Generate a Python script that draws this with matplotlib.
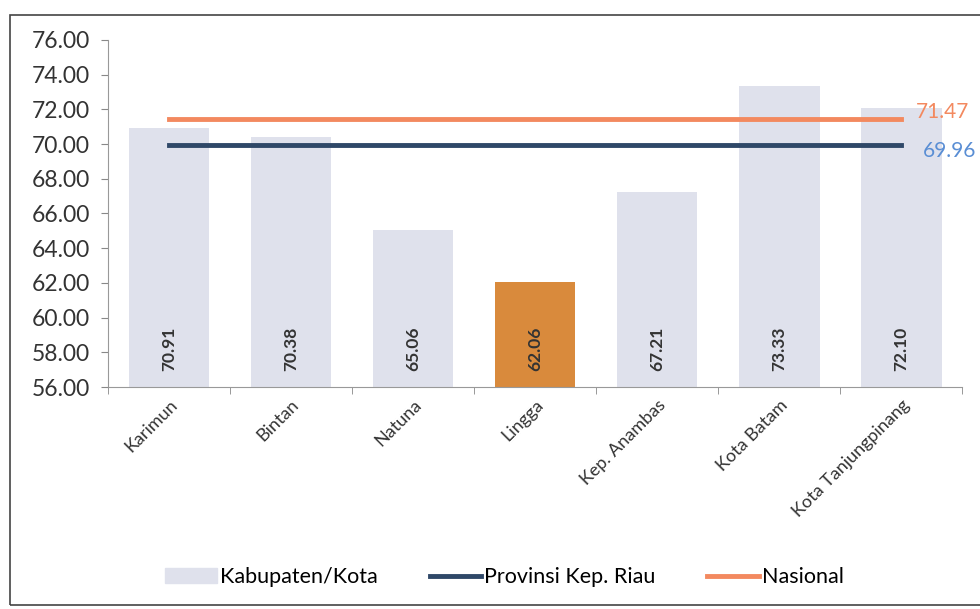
import matplotlib.pyplot as plt
import matplotlib.patches as mpatches
from matplotlib.lines import Line2D
import numpy as np

plt.rcParams['font.family'] = ['Lato', 'DejaVu Sans']

# data
kabupaten = ['Karimun', 'Bintan', 'Natuna', 'Lingga', 'Kep. Anambas',
             'Kota Batam', 'Kota Tanjungpinang']
nilai = [70.91, 70.38, 65.06, 62.06, 67.21, 73.33, 72.10]
provinsi = 69.96
nasional = 71.47

WARNA_BAR = '#dfe1ec'
WARNA_LINGGA = '#d98a3c'
WARNA_PROV = '#2f4868'
WARNA_NAS = '#f3895f'

fig = plt.figure(figsize=(9.8, 6.09), dpi=100)
ax = fig.add_axes([0.110, 0.3645, 0.872, 0.570])

x = np.arange(len(kabupaten))
warna = [WARNA_LINGGA if k == 'Lingga' else WARNA_BAR for k in kabupaten]
ax.bar(x, [v - 56 for v in nilai], bottom=56, width=0.66, color=warna, zorder=1)

for xi, v in zip(x, nilai):
    ax.text(xi, 58.2, f"{v:.2f}", rotation=90, ha='center', va='center',
            fontsize=12.5, fontweight='bold', color='#333333', zorder=3)

ax.plot(x, [provinsi] * len(x), color=WARNA_PROV, lw=3.5, zorder=2)
ax.plot(x, [nasional] * len(x), color=WARNA_NAS, lw=3.5, zorder=2)
ax.text(x[-1] + 0.12, nasional + 0.4, f"{nasional:.2f}", color=WARNA_NAS,
        fontsize=15, va='center', ha='left', clip_on=False)
ax.text(x[-1] + 0.18, provinsi - 0.35, f"{provinsi:.2f}", color='#5a8ed4',
        fontsize=15, va='center', ha='left', clip_on=False)

ax.set_xlim(-0.5, len(x) - 0.5)
ax.set_ylim(56, 76)
ax.set_yticks(np.arange(56, 77, 2))
ax.set_yticklabels([f"{t:.2f}" for t in np.arange(56, 77, 2)], fontsize=16.5, color='#333333')
ax.set_xticks(x)
ax.set_xticklabels(kabupaten, rotation=45, ha='right', rotation_mode='anchor',
                   fontsize=13, color='#333333')
ax.set_xticks(np.arange(-0.5, len(x)), minor=True)
ax.tick_params(axis='x', which='major', length=0, pad=7)
ax.tick_params(axis='x', which='minor', length=5, color='#888888')
ax.tick_params(axis='y', length=5, color='#888888', pad=8)

for s in ['top', 'right']:
    ax.spines[s].set_visible(False)
for s in ['left', 'bottom']:
    ax.spines[s].set_color('#999999')

# legend
handles = [mpatches.Patch(color=WARNA_BAR, label='Kabupaten/Kota'),
           Line2D([0], [0], color=WARNA_PROV, lw=3.5, label='Provinsi Kep. Riau'),
           Line2D([0], [0], color=WARNA_NAS, lw=3.5, label='Nasional')]
fig.legend(handles=handles, loc='center', bbox_to_anchor=(0.515, 0.052), ncol=3,
           frameon=False, fontsize=15.5, handlelength=2.4, handletextpad=0.15,
           columnspacing=2.4)

# frame around the chart
frame = mpatches.Rectangle((0.010, 0.006), 1.2, 0.970, transform=fig.transFigure,
                           fill=False, edgecolor='#444444', lw=1.2)
fig.patches.append(frame)

fig.savefig('out.png', dpi=100)
